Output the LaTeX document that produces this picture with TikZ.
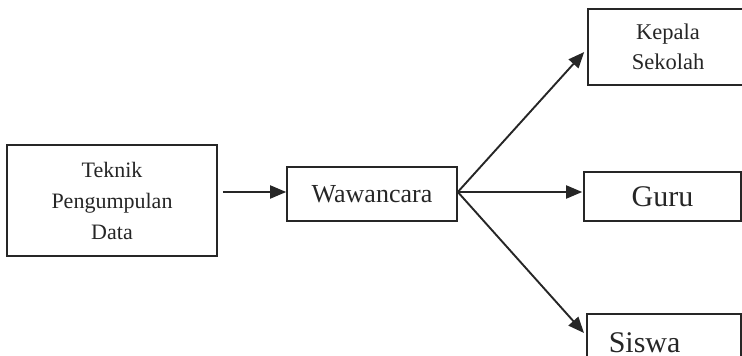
\documentclass[tikz,border=0pt]{standalone}
\usepackage{fontspec}
\setmainfont{Liberation Serif}
\usetikzlibrary{arrows.meta,calc}
\begin{document}
\begin{tikzpicture}[x=1pt,y=-1pt,
  box/.style={draw=black!85,line width=1.6pt,inner sep=0pt,text=black!85,align=center},
  arr/.style={draw=black!85,line width=1.9pt,-{Triangle[length=16pt,width=13pt]}}]
\useasboundingbox (0,0) rectangle (742,356);
\clip (0,0) rectangle (742,356);
\node[box,minimum width=210pt,minimum height=111pt,font=\fontsize{22}{31}\selectfont] (tek) at (112,200.5) {Teknik\\Pengumpulan\\Data};
\node[box,minimum width=170pt,minimum height=54pt,font=\fontsize{26}{30}\selectfont] (waw) at (372,194) {Wawancara};
\node[box,minimum width=160pt,minimum height=76pt,font=\fontsize{22.5}{30}\selectfont] (kep) at (668,47) {Kepala\\Sekolah};
\node[box,minimum width=157pt,minimum height=49pt,font=\fontsize{30}{34}\selectfont] (guru) at (662.5,196.5) {Guru};
\node[box,anchor=north west,align=left,text width=110pt,inner xsep=22pt,inner ysep=18pt,text height=21pt,text depth=7pt,font=\fontsize{30}{34}\selectfont] (sis) at (586,313) {Siswa};
\coordinate (hub) at ($(waw.east)+(0,-2)$);
\draw[arr] ($(tek.east)+(5,-8.5)$) -- ($(waw.west)+(0,-2)$);
\draw[arr] (hub) -- ($(kep.west)+(-3,5)$);
\draw[arr] (hub) -- ($(guru.west)+(-1,-4.5)$);
\draw[arr] (hub) -- ($(sis.north west)+(-2,20)$);
\end{tikzpicture}
\end{document}
